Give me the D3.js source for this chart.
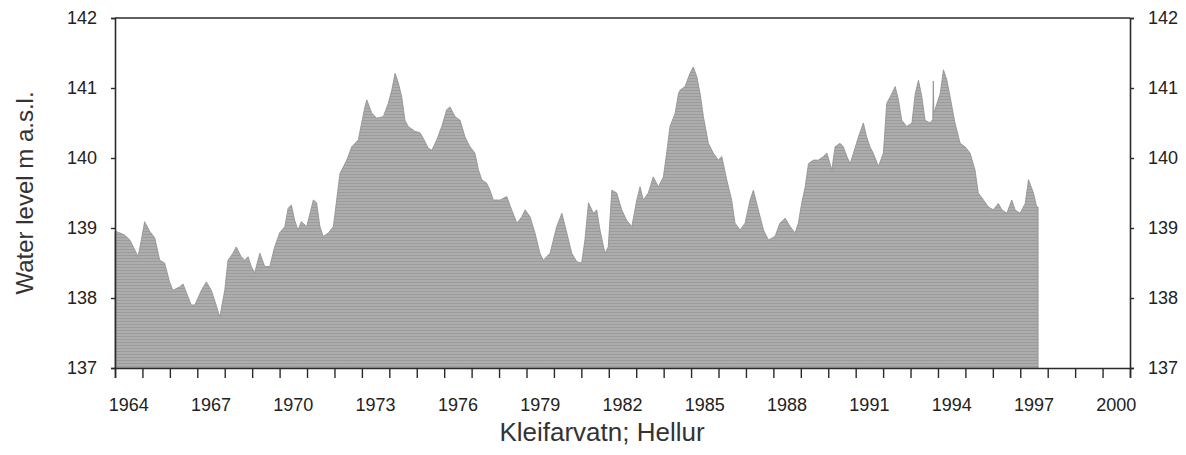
<!DOCTYPE html>
<html>
<head>
<meta charset="utf-8">
<script src="https://cdn.jsdelivr.net/npm/d3@7"></script>
<style>
  html, body { margin: 0; padding: 0; background: #fff; }
  svg { display: block; font-family: "Liberation Sans", Arial, sans-serif; }
</style>
</head>
<body>
<svg id="chart" width="1186" height="455"></svg>
<script>
// Decimal year of each reading
const dates = [
  1964.00, 1964.05, 1964.35, 1964.54, 1964.72, 1964.84, 1964.96, 1965.08, 1965.27, 1965.45,
  1965.63, 1965.81, 1965.99, 1966.11, 1966.36, 1966.48, 1966.66, 1966.78, 1966.91, 1967.15,
  1967.33, 1967.51, 1967.63, 1967.82, 1968.00, 1968.12, 1968.30, 1968.42, 1968.60, 1968.73,
  1968.85, 1968.97, 1969.09, 1969.28, 1969.46, 1969.64, 1969.82, 1970.00, 1970.19, 1970.31,
  1970.43, 1970.55, 1970.67, 1970.79, 1970.99, 1971.23, 1971.35, 1971.47, 1971.59, 1971.78,
  1971.96, 1972.08, 1972.20, 1972.45, 1972.63, 1972.75, 1972.87, 1972.99, 1973.11, 1973.18,
  1973.36, 1973.54, 1973.78, 1973.96, 1974.09, 1974.21, 1974.33, 1974.45, 1974.57, 1974.69,
  1974.94, 1975.12, 1975.24, 1975.42, 1975.55, 1975.73, 1975.91, 1976.09, 1976.21, 1976.40,
  1976.58, 1976.76, 1976.94, 1977.12, 1977.25, 1977.37, 1977.55, 1977.67, 1977.79, 1978.04,
  1978.28, 1978.46, 1978.65, 1978.83, 1978.95, 1979.13, 1979.31, 1979.49, 1979.61, 1979.86,
  1980.10, 1980.29, 1980.47, 1980.65, 1980.83, 1981.01, 1981.13, 1981.26, 1981.44, 1981.56,
  1981.68, 1981.86, 1981.98, 1982.11, 1982.29, 1982.47, 1982.65, 1982.84, 1983.02, 1983.14,
  1983.26, 1983.44, 1983.62, 1983.81, 1983.99, 1984.11, 1984.23, 1984.42, 1984.54, 1984.60,
  1984.78, 1984.96, 1985.08, 1985.21, 1985.33, 1985.45, 1985.63, 1985.81, 1985.99, 1986.12,
  1986.30, 1986.48, 1986.60, 1986.79, 1986.97, 1987.15, 1987.27, 1987.45, 1987.64, 1987.82,
  1988.06, 1988.24, 1988.43, 1988.61, 1988.79, 1988.91, 1989.03, 1989.16, 1989.28, 1989.46,
  1989.64, 1989.82, 1989.95, 1990.13, 1990.25, 1990.43, 1990.55, 1990.68, 1990.80, 1990.92,
  1991.10, 1991.28, 1991.40, 1991.52, 1991.64, 1991.83, 1992.01, 1992.13, 1992.32, 1992.44,
  1992.56, 1992.68, 1992.86, 1993.05, 1993.17, 1993.29, 1993.41, 1993.53, 1993.71, 1993.81,
  1993.83, 1993.85, 1993.89, 1994.08, 1994.20, 1994.32, 1994.44, 1994.62, 1994.81, 1994.99,
  1995.17, 1995.35, 1995.47, 1995.66, 1995.84, 1996.02, 1996.20, 1996.33, 1996.51, 1996.69,
  1996.81, 1996.99, 1997.18, 1997.30, 1997.48, 1997.60, 1997.65
];
// Water level, m a.s.l.
const levels = [
  138.95, 138.95, 138.90, 138.83, 138.69, 138.59, 138.83, 139.09, 138.95, 138.86,
  138.54, 138.50, 138.23, 138.11, 138.16, 138.20, 138.02, 137.90, 137.90, 138.11,
  138.23, 138.11, 137.97, 137.73, 138.11, 138.54, 138.64, 138.73, 138.59, 138.54,
  138.59, 138.45, 138.36, 138.64, 138.45, 138.45, 138.73, 138.93, 139.02, 139.28,
  139.33, 139.11, 138.97, 139.09, 139.02, 139.40, 139.36, 139.02, 138.88, 138.93,
  139.02, 139.40, 139.78, 139.97, 140.16, 140.21, 140.26, 140.50, 140.73, 140.83,
  140.64, 140.57, 140.59, 140.78, 140.97, 141.21, 141.07, 140.88, 140.54, 140.45,
  140.38, 140.36, 140.28, 140.14, 140.11, 140.26, 140.45, 140.69, 140.73, 140.59,
  140.54, 140.30, 140.16, 140.07, 139.83, 139.69, 139.64, 139.54, 139.40, 139.40,
  139.45, 139.26, 139.07, 139.16, 139.26, 139.16, 138.93, 138.64, 138.54, 138.64,
  139.02, 139.21, 138.93, 138.64, 138.52, 138.50, 138.83, 139.36, 139.21, 139.26,
  138.97, 138.64, 138.73, 139.54, 139.50, 139.26, 139.11, 139.02, 139.40, 139.59,
  139.40, 139.50, 139.73, 139.59, 139.73, 140.07, 140.45, 140.64, 140.92, 140.97,
  141.02, 141.21, 141.30, 141.16, 140.92, 140.59, 140.21, 140.07, 139.97, 140.02,
  139.69, 139.40, 139.07, 138.97, 139.07, 139.40, 139.54, 139.26, 138.97, 138.83,
  138.88, 139.07, 139.14, 139.02, 138.93, 139.07, 139.35, 139.59, 139.92, 139.97,
  139.97, 140.02, 140.07, 139.83, 140.16, 140.21, 140.16, 140.02, 139.92, 140.07,
  140.30, 140.50, 140.30, 140.16, 140.07, 139.88, 140.07, 140.78, 140.92, 141.02,
  140.83, 140.54, 140.45, 140.50, 140.92, 141.11, 140.88, 140.54, 140.50, 140.55,
  141.10, 140.65, 140.69, 140.92, 141.26, 141.12, 140.88, 140.50, 140.21, 140.16,
  140.07, 139.83, 139.50, 139.40, 139.30, 139.26, 139.35, 139.26, 139.21, 139.40,
  139.26, 139.21, 139.35, 139.69, 139.50, 139.30, 139.30
];
const yTicks = [137, 138, 139, 140, 141, 142];
const yearLabels = [1964, 1967, 1970, 1973, 1976, 1979, 1982, 1985, 1988, 1991, 1994, 1997, 2000];
const yTitle = "Water level m a.s.l.";
const xTitle = "Kleifarvatn; Hellur";

(function () {
const svg = d3.select("#chart");
const pLeft = 115, pRight = 1130, pTop = 18, pBottom = 368;

const x = d3.scaleLinear().domain([1964, 2001]).range([pLeft, pRight]);
const y = d3.scaleLinear().domain([137, 142]).range([pBottom, pTop]);

// texture pattern
const defs = svg.append("defs");
const pat = defs.append("pattern").attr("id", "hatch")
  .attr("patternUnits", "userSpaceOnUse").attr("width", 6).attr("height", 3);
pat.append("rect").attr("width", 6).attr("height", 3).attr("fill", "#adadad");
pat.append("rect").attr("width", 6).attr("height", 1).attr("fill", "#9b9b9b");

const data = dates.map((d, i) => ({ t: d, v: levels[i] }));
const area = d3.area()
  .x(d => x(d.t))
  .y0(y(137))
  .y1(d => y(d.v))
  .curve(d3.curveLinear);

svg.append("path").datum(data)
  .attr("d", area)
  .attr("fill", "url(#hatch)")
  .attr("stroke", "#8e8e8e")
  .attr("stroke-width", 0.8);

const axisColor = "#2a2a2a";
const fontSize = "18px";

const gl = svg.append("g").attr("transform", `translate(${pLeft},0)`)
  .call(d3.axisLeft(y).tickValues(yTicks).tickSize(4).tickPadding(14).tickFormat(d3.format("d")));
const gr = svg.append("g").attr("transform", `translate(${pRight},0)`)
  .call(d3.axisRight(y).tickValues(yTicks).tickSize(4).tickPadding(14).tickFormat(d3.format("d")));
const gb = svg.append("g").attr("transform", `translate(0,${pBottom})`)
  .call(d3.axisBottom(x).tickValues(d3.range(1964, 2002)).tickSize(10).tickFormat(""));

svg.append("g").selectAll("text").data(yearLabels).join("text")
  .attr("x", d => x(d + 0.5))
  .attr("y", 411)
  .attr("text-anchor", "middle")
  .attr("font-size", fontSize)
  .attr("fill", "#222")
  .text(d => d);

[gl, gr, gb].forEach(g => {
  g.select(".domain").attr("stroke", axisColor).attr("stroke-width", 1.6);
  g.selectAll(".tick line").attr("stroke", axisColor).attr("stroke-width", 1.4);
  g.selectAll(".tick text").attr("font-size", fontSize).attr("fill", "#222")
    .attr("font-family", "Liberation Sans, Arial, sans-serif");
});

svg.append("line")
  .attr("x1", x(1964)).attr("x2", x(2001))
  .attr("y1", y(142)).attr("y2", y(142))
  .attr("stroke", axisColor).attr("stroke-width", 1.6);

svg.append("text")
  .attr("transform", `translate(33,${(pTop + pBottom) / 2}) rotate(-90)`)
  .attr("text-anchor", "middle")
  .attr("font-size", "24px")
  .attr("fill", "#333")
  .text(yTitle);

svg.append("text")
  .attr("x", 602).attr("y", 441)
  .attr("text-anchor", "middle")
  .attr("font-size", "26px")
  .attr("fill", "#333")
  .text(xTitle);
})();
</script>
</body>
</html>
